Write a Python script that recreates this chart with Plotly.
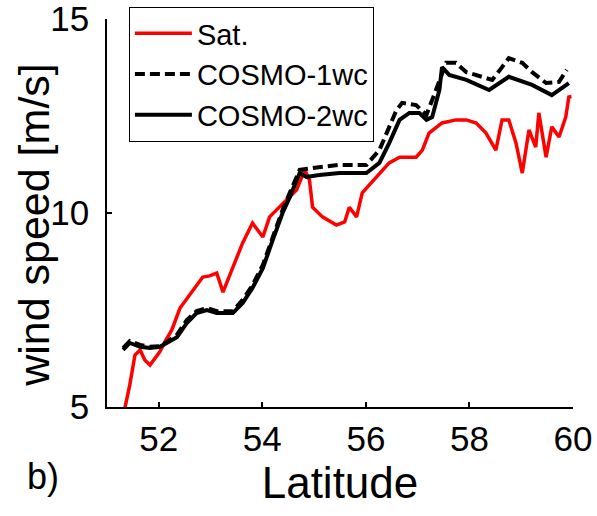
import plotly.graph_objects as go

# Satellite (red)
sat_lat = [51.33, 51.35, 51.44, 51.54, 51.64, 51.73, 51.83, 51.92, 52.02, 52.14, 52.25, 52.41,
           52.6, 52.73, 52.85, 52.98, 53.12, 53.24, 53.43, 53.62, 53.81, 54.01, 54.14, 54.33,
           54.47, 54.66, 54.82, 54.91, 54.97, 55.16, 55.43, 55.59, 55.68, 55.82, 55.93, 56.07,
           56.2, 56.45, 56.65, 56.84, 56.97, 57.09, 57.22, 57.47, 57.74, 57.94, 58.13, 58.32,
           58.51, 58.63, 58.76, 58.9, 59.02, 59.15, 59.28, 59.34, 59.48, 59.59, 59.73, 59.86,
           59.92, 59.97]
sat_ws = [4.9, 5.0, 5.57, 6.34, 6.47, 6.21, 6.08, 6.26, 6.42, 6.73, 6.98, 7.55,
          7.89, 8.14, 8.35, 8.38, 8.45, 7.96, 8.61, 9.23, 9.74, 9.38, 9.9, 10.15,
          10.34, 10.59, 11.11, 10.85, 10.15, 9.9, 9.69, 9.77, 10.15, 9.9, 10.52, 10.72,
          10.93, 11.29, 11.44, 11.44, 11.44, 11.62, 12.06, 12.32, 12.4, 12.4, 12.32, 12.06,
          11.62, 12.4, 12.4, 11.8, 11.03, 12.14, 11.7, 12.58, 11.44, 12.22, 11.96, 12.47,
          12.99, 13.0]

# COSMO-1wc (dashed)
c1_lat = [51.31, 51.44, 51.64, 51.83, 52.02, 52.16, 52.35, 52.54, 52.73, 52.93, 53.12, 53.43,
          53.62, 53.81, 54.01, 54.2, 54.39, 54.53, 54.66, 54.72, 54.97, 55.49, 56.01, 56.26,
          56.59, 56.7, 56.97, 57.17, 57.28, 57.42, 57.55, 57.74, 57.94, 58.24, 58.44, 58.63,
          58.76, 59.02, 59.21, 59.48, 59.73, 59.88]
c1_ws = [6.52, 6.7, 6.6, 6.55, 6.57, 6.68, 6.86, 7.24, 7.47, 7.55, 7.47, 7.47,
         7.76, 8.14, 8.66, 9.38, 10.08, 10.52, 10.95, 11.11, 11.16, 11.24, 11.24, 11.62,
         12.65, 12.84, 12.78, 12.53, 12.91, 13.43, 13.87, 13.87, 13.63, 13.51, 13.43, 13.76,
         13.99, 13.87, 13.63, 13.35, 13.38, 13.69]

# COSMO-2wc (solid black)
c2_lat = [51.31, 51.44, 51.64, 51.83, 52.02, 52.16, 52.35, 52.54, 52.73, 52.93, 53.12, 53.43,
          53.62, 53.81, 54.01, 54.2, 54.39, 54.53, 54.66, 54.72, 54.85, 55.1, 55.49, 56.01,
          56.26, 56.45, 56.65, 56.84, 57.03, 57.17, 57.28, 57.42, 57.47, 57.61, 57.94, 58.38,
          58.76, 59.21, 59.59, 59.92]
c2_ws = [6.47, 6.65, 6.55, 6.52, 6.55, 6.65, 6.8, 7.16, 7.42, 7.5, 7.42, 7.42,
         7.68, 8.07, 8.58, 9.3, 10.0, 10.41, 10.85, 11.03, 10.93, 10.98, 11.03, 11.03,
         11.29, 11.8, 12.4, 12.58, 12.58, 12.4, 12.47, 13.17, 13.76, 13.56, 13.43, 13.17,
         13.51, 13.3, 13.04, 13.35]

x_ticks = [52, 54, 56, 58, 60]
y_ticks = [5, 10, 15]

FONT = "Liberation Sans, Arial, sans-serif"

fig = go.Figure()
fig.add_trace(go.Scatter(x=sat_lat, y=sat_ws, mode="lines", name="Sat.",
                         line=dict(color="#ff0000", width=3.5)))
fig.add_trace(go.Scatter(x=c1_lat, y=c1_ws, mode="lines", name="COSMO-1wc",
                         line=dict(color="black", width=4, dash="10px,5px")))
fig.add_trace(go.Scatter(x=c2_lat, y=c2_ws, mode="lines", name="COSMO-2wc",
                         line=dict(color="black", width=4)))

fig.update_layout(
    width=597, height=516,
    margin=dict(l=107, r=24, t=19, b=109, autoexpand=False),
    paper_bgcolor="white", plot_bgcolor="white",
    font=dict(family=FONT, color="black"),
    showlegend=True,
    legend=dict(x=0.047, y=1.031, xanchor="left", yanchor="top",
                bordercolor="black", borderwidth=1, bgcolor="white",
                font=dict(size=29, family=FONT), itemwidth=57,
                tracegroupgap=0),
    xaxis=dict(range=[51, 60], tickvals=x_ticks, ticks="inside", ticklen=5,
               tickwidth=1.5, tickcolor="black", showline=True, linecolor="black",
               linewidth=1.5, showgrid=False, zeroline=False, mirror=False,
               tickfont=dict(size=35, family=FONT), ticklabeloverflow="allow",
               title=dict(text="Latitude", font=dict(size=44, family=FONT), standoff=0)),
    yaxis=dict(range=[5, 15], tickvals=y_ticks, ticks="inside", ticklen=5,
               tickwidth=1.5, tickcolor="black", showline=True, linecolor="black",
               linewidth=1.5, showgrid=False, zeroline=False, mirror=False,
               tickfont=dict(size=35, family=FONT), ticklabeloverflow="allow",
               ticklabelstandoff=9),
    annotations=[
        dict(text="wind speed [m/s]", xref="paper", yref="paper", x=-0.157, y=0.469,
             xanchor="center", yanchor="middle", textangle=-90, showarrow=False,
             font=dict(size=43, family=FONT, color="black")),
        dict(text="b)", xref="paper", yref="paper", x=-0.137, y=-0.178,
             xanchor="center", yanchor="middle", showarrow=False,
             font=dict(size=36, family=FONT, color="black")),
    ],
)

fig.write_html("out.html")
